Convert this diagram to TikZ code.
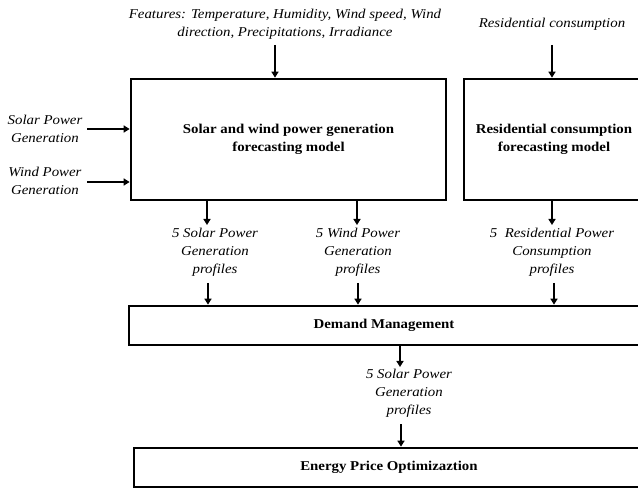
\documentclass[tikz,border=0pt]{standalone}
\usepackage{fontspec}
\setmainfont[FakeStretch=1.1]{Liberation Serif}
\usetikzlibrary{arrows.meta}
\begin{document}
\begin{tikzpicture}[x=1pt,y=-1pt,
  box/.style={draw, line width=2.7pt, inner sep=0pt, align=center, font=\bfseries\fontsize{13.5}{17.5}\selectfont},
  lab/.style={inner sep=0pt, align=center, font=\itshape\fontsize{13.5}{17.8}\selectfont},
  arr/.style={line width=2pt, -{Triangle[length=6pt,width=7pt]}}]
\useasboundingbox (0,0) rectangle (638,489);
\clip (0,0) rectangle (638,489);
% boxes
\node[box, minimum width=315pt, minimum height=121pt] (sw) at (288.5,139.5) {Solar and wind power generation\\forecasting model};
\node[box, minimum width=180pt, minimum height=121pt] (rc) at (554,139.5) {Residential consumption\\forecasting model};
\node[box, minimum width=510pt, minimum height=39pt] (dm) at (384,325.5) {Demand Management};
\node[box, minimum width=510pt, minimum height=39pt] (ep) at (389,467.5) {Energy Price Optimizaztion};
% labels
\node[lab] (feat) at (285,24.5) {Features: Temperature, Humidity, Wind speed, Wind\\direction, Precipitations, Irradiance};
\node[lab] (res) at (552,24) {Residential consumption};
\node[lab] (solar) at (45,129) {Solar Power\\Generation};
\node[lab] (wind) at (45,181) {Wind Power\\Generation};
\node[lab] (p1) at (215,252) {5 Solar Power\\Generation\\profiles};
\node[lab] (p2) at (358,252) {5 Wind Power\\Generation\\profiles};
\node[lab] (p3) at (552,252) {5~ Residential Power\\Consumption\\profiles};
\node[lab] (p4) at (409,393.5) {5 Solar Power\\Generation\\profiles};
% connectors
\coordinate (fa) at (275,45);
\draw[arr] (fa) -- (fa |- sw.north);
\coordinate (ra) at (552,45);
\draw[arr] (ra) -- (ra |- rc.north);
\coordinate (sa) at (87,129);
\draw[arr] (sa) -- (sa -| sw.west);
\coordinate (wa) at (87,182);
\draw[arr] (wa) -- (wa -| sw.west);
\coordinate (d1) at (207,225);
\draw[arr] (d1 |- sw.south) -- (d1);
\coordinate (d2) at (357,225);
\draw[arr] (d2 |- sw.south) -- (d2);
\coordinate (d3) at (552,225);
\draw[arr] (d3 |- rc.south) -- (d3);
\coordinate (u1) at (208,283);
\draw[arr] (u1) -- (u1 |- dm.north);
\coordinate (u2) at (358,283);
\draw[arr] (u2) -- (u2 |- dm.north);
\coordinate (u3) at (554,283);
\draw[arr] (u3) -- (u3 |- dm.north);
\coordinate (m1) at (400,367);
\draw[arr] (m1 |- dm.south) -- (m1);
\coordinate (m2) at (401,424);
\draw[arr] (m2) -- (m2 |- ep.north);
\end{tikzpicture}
\end{document}
